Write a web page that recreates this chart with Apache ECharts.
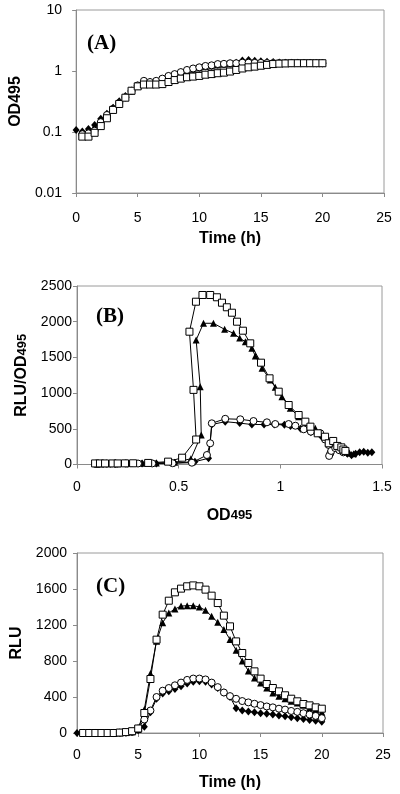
<!DOCTYPE html>
<html><head><meta charset="utf-8">
<script src="https://cdn.jsdelivr.net/npm/echarts@6/dist/echarts.min.js"></script>
<style>html,body{margin:0;padding:0;background:#fff}#c{width:400px;height:794px}</style>
</head><body><div id="c"></div>
<script>
// Time points (h)
const timeH = [0,0.5,1,1.5,2,2.5,3,3.5,4,4.5,5,5.5,6,6.5,7,7.5,8,8.5,9,9.5,10,10.5,11,11.5,12,12.5,13,13.5,14,14.5,15,15.5,16,16.5,17,17.5,18,18.5,19,19.5,20];

// Panel A: OD495 vs time
const odDiamond = [0.108,0.102,0.112,0.13,0.165,0.2,0.25,0.32,0.39,0.48,0.58,0.64,0.66,0.67,0.74,0.82,0.88,0.95,1.02,1.08,1.13,1.19,1.22,1.27,1.3,1.33,1.36,1.48,1.52,1.47,1.44,1.42,1.4,1.38,1.37,1.36,1.36,1.35,1.35,1.34,1.34];
const odTriangle = [null,0.098,0.106,0.125,0.16,0.2,0.25,0.31,0.38,0.47,0.57,0.63,0.65,0.66,0.73,0.81,0.87,0.94,1.01,1.07,1.12,1.18,1.21,1.26,1.29,1.32,1.35,1.46,1.5,1.45,1.43,1.41,1.39,1.38,1.37,1.36,1.36,1.35,1.35,1.34,1.34];
const odCircle = [null,0.092,0.095,0.105,0.145,0.19,0.24,0.3,0.37,0.47,0.58,0.69,0.66,0.69,0.75,0.83,0.89,0.96,1.04,1.1,1.15,1.21,1.24,1.3,1.31,1.34,1.34,1.37,1.37,1.36,1.36,1.35,1.35,1.35,1.35,1.35,1.35,1.35,1.35,1.34,1.34];
const odSquare = [null,0.084,0.084,0.097,0.125,0.168,0.23,0.288,0.365,0.475,0.56,0.6,0.6,0.6,0.61,0.66,0.71,0.75,0.79,0.81,0.83,0.87,0.89,0.92,0.94,0.98,1.04,1.1,1.15,1.18,1.22,1.26,1.3,1.32,1.33,1.34,1.34,1.34,1.34,1.34,1.34];

// Panel B: RLU/OD495 vs OD495
const bSquareOD  = [0.089,0.113,0.138,0.175,0.2,0.236,0.276,0.35,0.448,0.517,0.586,0.573,0.553,0.585,0.617,0.655,0.688,0.713,0.737,0.762,0.787,0.816,0.852,0.905,0.947,0.992,1.041,1.09,1.123,1.148,1.184,1.22,1.238,1.26,1.28,1.3,1.31,1.32];
const bSquareVal = [15,15,15,15,15,16,17,22,40,95,350,1045,1860,2280,2374,2374,2342,2266,2202,2126,2000,1874,1697,1426,1207,1020,833,693,600,530,437,389,297,330,260,240,210,190];
const bTriangleOD  = [0.1,0.12,0.16,0.2,0.26,0.32,0.39,0.48,0.56,0.611,0.606,0.586,0.622,0.671,0.726,0.77,0.8,0.828,0.86,0.877,0.91,0.951,0.975,1.008,1.049,1.09,1.13,1.172,1.197,1.22,1.26,1.29,1.32,1.34,1.36];
const bTriangleVal = [12,12,12,12,14,16,20,30,80,413,1090,1744,1978,1978,1893,1837,1770,1720,1627,1520,1347,1183,1081,950,787,670,585,507,437,390,320,260,200,160,150];
const bCircleOD  = [0.09,0.095,0.105,0.145,0.19,0.24,0.3,0.37,0.47,0.565,0.639,0.655,0.663,0.729,0.803,0.868,0.934,0.975,1.041,1.074,1.115,1.15,1.197,1.22,1.238,1.246,1.24,1.25,1.27,1.29,1.31];
const bCircleVal = [10,10,10,12,12,14,14,15,18,25,133,297,577,640,633,609,591,567,567,543,493,460,437,350,273,157,120,190,230,200,170];
const bDiamondOD  = [0.108,0.112,0.13,0.165,0.2,0.25,0.32,0.39,0.48,0.58,0.647,0.663,0.729,0.8,0.86,0.92,0.97,1.02,1.05,1.1,1.15,1.2,1.25,1.3,1.33,1.35,1.37,1.39,1.41,1.43,1.45];
const bDiamondVal = [10,10,10,10,12,12,14,15,20,40,87,560,600,580,560,560,560,555,540,500,450,400,300,240,150,130,150,170,180,165,170];

// Panel C: RLU vs time
const rluSquare = [null,0,0,0,0,0,0,5,10,20,50,222,600,1037,1315,1470,1563,1604,1630,1640,1630,1593,1526,1444,1304,1185,1018,889,778,685,604,544,500,463,419,381,352,322,307,285,270];
const rluTriangle = [null,0,0,0,0,0,0,3,8,15,40,260,660,1020,1225,1333,1378,1410,1415,1415,1400,1363,1296,1230,1150,1040,920,800,690,610,556,500,444,407,381,352,333,307,278,259,230];
const rluCircle = [null,0,0,0,0,0,0,3,6,12,50,150,250,400,470,500,530,560,590,605,605,595,560,510,450,410,380,355,340,325,310,295,285,270,260,245,235,220,205,190,165];
const rluDiamond = [0,0,0,0,0,0,0,2,5,10,30,70,230,380,440,465,490,520,550,570,575,570,540,500,450,400,275,250,240,230,220,215,205,195,185,175,165,155,145,135,125];

// Axis ticks
const ticksA_x = {min:0, max:25, interval:5};
const ticksA_y = {min:0.01, max:10};
const ticksB_x = {min:0, max:1.5, interval:0.5};
const ticksB_y = {min:0, max:2500, interval:500};
const ticksC_x = {min:0, max:25, interval:5};
const ticksC_y = {min:0, max:2000, interval:400};

const pairs = (xs, ys) => xs.map((x,i)=>[x, ys[i]]).filter(p=>p[1]!==null && p[1]!==undefined);

const FONT = 'Liberation Sans';
const plain = v => String(+(+v).toPrecision(4));
const axisCommon = {
  axisLine:{show:true, onZero:false, lineStyle:{color:'#8a8a8a', width:1}},
  axisTick:{show:true, inside:false, length:4, lineStyle:{color:'#8a8a8a'}},
  splitLine:{show:false},
  axisLabel:{color:'#000', fontSize:14, fontFamily:FONT, formatter:plain},
  nameTextStyle:{color:'#000', fontSize:16, fontWeight:'bold', fontFamily:FONT,
    rich:{s:{fontSize:13, fontWeight:'bold', fontFamily:FONT, color:'#000'}}}
};

const sym = {
  diamond:{symbol:'diamond', symbolSize:[7,8], itemStyle:{color:'#000', opacity:1}},
  triangle:{symbol:'triangle', symbolSize:7, itemStyle:{color:'#000', opacity:1}},
  circle:{symbol:'circle', symbolSize:7, itemStyle:{color:'#fff', borderColor:'#000', borderWidth:1, opacity:1}},
  square:{symbol:'rect', symbolSize:7, itemStyle:{color:'#fff', borderColor:'#000', borderWidth:1, opacity:1}}
};

function scatter(grid, xs, ys, kind){
  return Object.assign({type:'scatter', xAxisIndex:grid, yAxisIndex:grid, data:pairs(xs,ys), silent:true}, sym[kind]);
}
function line(grid, xs, ys, kind){
  return Object.assign({type:'line', xAxisIndex:grid, yAxisIndex:grid, data:pairs(xs,ys), showSymbol:true, showAllSymbol:true,
    lineStyle:{color:'#000', width:1}, silent:true}, sym[kind]);
}

const chart = echarts.init(document.getElementById('c'), null, {renderer:'canvas'});
chart.setOption({
  animation:false,
  backgroundColor:'#fff',
  grid:[
    {left:68, top:10, width:316, height:183, show:true, borderColor:'#9a9a9a', borderWidth:1},
    {left:77, top:286, width:305, height:178.5, show:true, borderColor:'#9a9a9a', borderWidth:1},
    {left:77, top:553, width:306, height:180, show:true, borderColor:'#9a9a9a', borderWidth:1}
  ],
  title:[
    {text:'(A)', left:82, top:28, textStyle:{fontFamily:'Liberation Serif', fontWeight:'bold', fontSize:21, color:'#000'}},
    {text:'(B)', left:91, top:301, textStyle:{fontFamily:'Liberation Serif', fontWeight:'bold', fontSize:21, color:'#000'}},
    {text:'(C)', left:91, top:571, textStyle:{fontFamily:'Liberation Serif', fontWeight:'bold', fontSize:21, color:'#000'}}
  ],
  xAxis:[
    Object.assign({}, axisCommon, {gridIndex:0, type:'value', ...ticksA_x, name:'Time (h)', nameLocation:'middle', nameGap:38,
      axisLabel:Object.assign({}, axisCommon.axisLabel, {margin:18})}),
    Object.assign({}, axisCommon, {gridIndex:1, type:'value', ...ticksB_x, name:'OD{s|495}', nameLocation:'middle', nameGap:43,
      axisLabel:Object.assign({}, axisCommon.axisLabel, {margin:16})}),
    Object.assign({}, axisCommon, {gridIndex:2, type:'value', ...ticksC_x, name:'Time (h)', nameLocation:'middle', nameGap:42,
      axisLabel:Object.assign({}, axisCommon.axisLabel, {margin:15})})
  ],
  yAxis:[
    Object.assign({}, axisCommon, {gridIndex:0, type:'log', logBase:10, ...ticksA_y, name:'OD495', nameLocation:'middle', nameGap:35,
      axisLabel:Object.assign({}, axisCommon.axisLabel, {margin:14})}),
    Object.assign({}, axisCommon, {gridIndex:1, type:'value', ...ticksB_y, name:'RLU/OD{s|495}', nameLocation:'middle', nameGap:47,
      axisLabel:Object.assign({}, axisCommon.axisLabel, {margin:5})}),
    Object.assign({}, axisCommon, {gridIndex:2, type:'value', ...ticksC_y, name:'RLU', nameLocation:'middle', nameGap:46,
      axisLabel:Object.assign({}, axisCommon.axisLabel, {margin:10})})
  ],
  series:[
    scatter(0, timeH, odDiamond, 'diamond'),
    scatter(0, timeH, odTriangle, 'triangle'),
    scatter(0, timeH, odCircle, 'circle'),
    scatter(0, timeH, odSquare, 'square'),
    line(1, bDiamondOD, bDiamondVal, 'diamond'),
    line(1, bTriangleOD, bTriangleVal, 'triangle'),
    line(1, bCircleOD, bCircleVal, 'circle'),
    line(1, bSquareOD, bSquareVal, 'square'),
    line(2, timeH, rluDiamond, 'diamond'),
    line(2, timeH, rluTriangle, 'triangle'),
    line(2, timeH, rluCircle, 'circle'),
    line(2, timeH, rluSquare, 'square')
  ]
});
</script>
</body></html>
